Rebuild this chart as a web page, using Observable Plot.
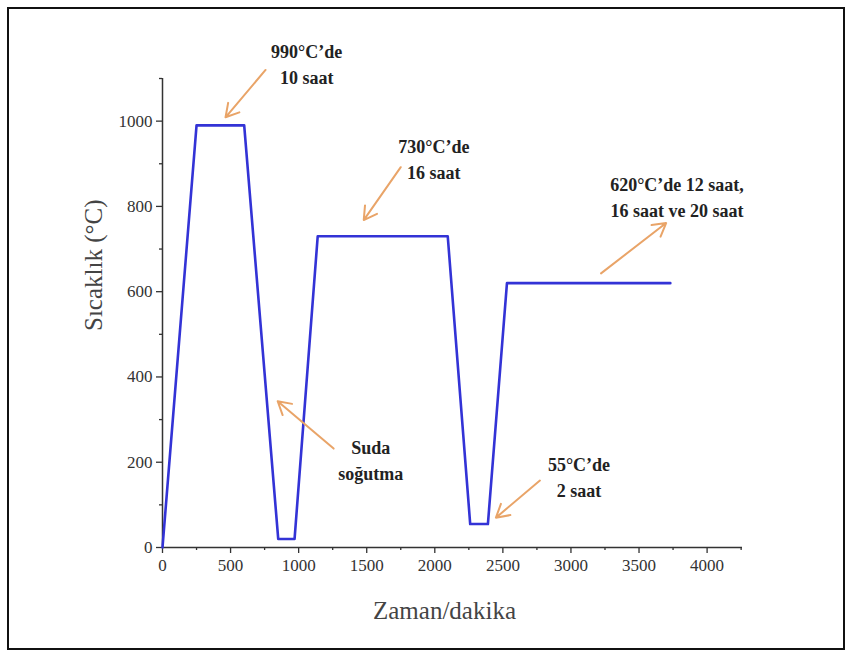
<!DOCTYPE html>
<html>
<head>
<meta charset="utf-8">
<script src="https://cdn.jsdelivr.net/npm/d3@7"></script>
<script src="https://cdn.jsdelivr.net/npm/@observablehq/plot@0.6"></script>
<style>
  body { margin: 0; background: #fff; }
  #wrap { position: relative; width: 851px; height: 656px; }
  #wrap svg, #wrap svg text { font-family: "Liberation Serif", "Times New Roman", "DejaVu Serif", serif !important; }
  #border { position: absolute; left: 7px; top: 7px; width: 834px; height: 639px; border: 2px solid #111; pointer-events: none; }
</style>
</head>
<body>
<div id="wrap"><div id="border"></div></div>
<script>
// Heat treatment profile
const time = [0, 250, 600, 850, 970, 1140, 2095, 2260, 2390, 2530, 3730];
const temp = [0, 990, 990, 20, 20, 730, 730, 55, 55, 620, 620];

const xTicks = [0, 500, 1000, 1500, 2000, 2500, 3000, 3500, 4000];
const xMinor = [250, 750, 1250, 1750, 2250, 2750, 3250, 3750, 4250];
const yTicks = [0, 200, 400, 600, 800, 1000];
const yMinor = [100, 300, 500, 700, 900, 1100];

// Annotations: label text and arrow tail/head in data units
const noteText = ["990°C’de\n10 saat", "730°C’de\n16 saat", "620°C’de 12 saat,\n16 saat ve 20 saat", "Suda\nsoğutma", "55°C’de\n2 saat"];
const noteX = [1059, 1993, 3779, 1529, 3059];
const noteY = [1138, 915, 826, 209, 169];
const arrowX1 = [757, 1750, 3221, 1257, 2772];
const arrowY1 = [1120, 892, 643, 232, 157];
const arrowX2 = [463, 1478, 3699, 846, 2449];
const arrowY2 = [1009, 768, 761, 343, 70];

const profile = time.map((t, i) => ({t, T: temp[i]}));
const notes = noteText.map((s, i) => ({s, x: noteX[i], y: noteY[i]}));
const arrows = arrowX1.map((_, i) => ({x1: arrowX1[i], y1: arrowY1[i], x2: arrowX2[i], y2: arrowY2[i]}));

const serif = "Liberation Serif";
const axisColor = "#333";
const fmt = d3.format("d");

const chart = Plot.plot({
  width: 851,
  height: 656,
  marginLeft: 162,
  marginRight: 109,
  marginTop: 78,
  marginBottom: 109,
  style: {fontFamily: serif, fontSize: "17px", color: axisColor, background: "transparent"},
  x: {domain: [0, 4260]},
  y: {domain: [0, 1100]},
  marks: [
    Plot.axisX({ticks: xTicks, tickFormat: fmt, tickSize: 6, tickPadding: 5, label: null, stroke: axisColor, strokeWidth: 1.3}),
    Plot.axisX({ticks: xMinor, tickSize: 3, tickFormat: () => "", label: null, stroke: axisColor, strokeWidth: 1.3}),
    Plot.axisY({ticks: yTicks, tickFormat: fmt, tickSize: 6, tickPadding: 4, label: null, stroke: axisColor, strokeWidth: 1.3}),
    Plot.axisY({ticks: yMinor, tickSize: 3, tickFormat: () => "", label: null, stroke: axisColor, strokeWidth: 1.3}),
    Plot.ruleY([0], {stroke: axisColor, strokeWidth: 1.5}),
    Plot.ruleX([0], {stroke: axisColor, strokeWidth: 1.5}),
    Plot.line(profile, {x: "t", y: "T", stroke: "#3333d6", strokeWidth: 2.6}),
    Plot.arrow(arrows, {x1: "x1", y1: "y1", x2: "x2", y2: "y2", stroke: "#e9a468", strokeWidth: 2, headLength: 11, bend: 0}),
    Plot.text(notes, {x: "x", y: "y", text: "s", lineAnchor: "middle", lineHeight: 1.45, fontSize: 18, fontWeight: "bold", fill: "#222"}),
    Plot.text(["Sıcaklık (°C)"], {frameAnchor: "left", rotate: -90, dx: -69, dy: 18, fontSize: 25, fill: "#444", lineAnchor: "middle"}),
    Plot.text(["Zaman/dakika"], {frameAnchor: "bottom", dx: -8, dy: 63, fontSize: 25, fill: "#444", lineAnchor: "middle"})
  ]
});
document.getElementById("wrap").prepend(chart);
</script>
</body>
</html>
